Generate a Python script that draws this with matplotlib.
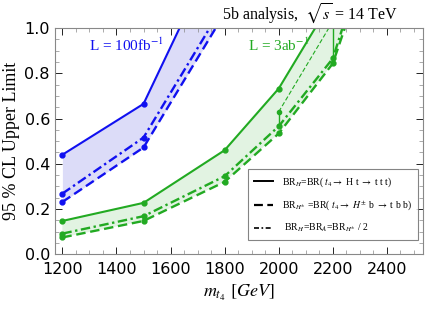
import numpy as np
import matplotlib
matplotlib.use("Agg")
import matplotlib.pyplot as plt
from matplotlib.lines import Line2D

plt.rcParams['mathtext.fontset'] = 'stix'

# data
m_blue = [1200, 1500, 1800]
blue_solid = [0.44, 0.665, 1.42]
blue_dashdot = [0.268, 0.516, 1.11]
blue_dashed = [0.231, 0.472, 1.066]

m_green = [1200, 1500, 1800, 2000, 2200, 2400]
green_solid = [0.147, 0.227, 0.46, 0.733, 1.13, 1.6]
green_dashdot = [0.091, 0.168, 0.345, 0.566, 0.866, 1.62]
green_dashed = [0.074, 0.147, 0.32, 0.534, 0.844, 1.55]

m_extra = [2000, 2200]
green_extra = [0.63, 1.03]

blue = '#1010f0'
green = '#22aa22'

fig = plt.figure(figsize=(4.25, 3.13), dpi=100)
ax = fig.add_axes([0.129, 0.188, 0.866, 0.722])

ax.fill_between(m_blue, blue_solid, blue_dashed, color='#dcdcf8', lw=0)
ax.fill_between(m_green, green_solid, green_dashed, color='#e2f3e2', lw=0)

ax.plot(m_blue, blue_solid, '-', color=blue, lw=1.5, marker='o', ms=3.5)
ax.plot(m_blue, blue_dashdot, color=blue, lw=1.7, marker='o', ms=3.5, dashes=[4, 1.5, 1, 1.5])
ax.plot(m_blue, blue_dashed, color=blue, lw=1.7, marker='o', ms=3.5, dashes=[4, 2])

ax.plot(m_green, green_solid, '-', color=green, lw=1.5, marker='o', ms=3.5)
ax.plot(m_green, green_dashdot, color=green, lw=1.7, marker='o', ms=3.5, dashes=[4, 1.5, 1, 1.5])
ax.plot(m_green, green_dashed, color=green, lw=1.7, marker='o', ms=3.5, dashes=[4, 2])
ax.plot(m_extra, green_extra, color=green, lw=0.8, dashes=[4, 2], marker='o', ms=3)
ax.plot([m_extra[0], m_extra[0]], [green_dashdot[3], green_extra[0]], color=green, lw=1.0)
ax.plot([m_extra[1], m_extra[1]], [green_dashdot[4], 1.0], color=green, lw=1.0)

ax.set_xlim(1172, 2533)
ax.set_ylim(0, 1.0)
ax.set_xticks([1200, 1400, 1600, 1800, 2000, 2200, 2400])
ax.set_yticks([0.0, 0.2, 0.4, 0.6, 0.8, 1.0])
ax.set_yticklabels(['0.0', '0.2', '0.4', '0.6', '0.8', '1.0'])
ax.set_xticks(np.arange(1200, 2530, 50), minor=True)
ax.set_yticks(np.arange(0, 1.0, 0.05), minor=True)
ax.tick_params(which='both', direction='in', top=True, right=True, labelsize=11.5)
ax.tick_params(axis='x', which='major', pad=6)
ax.tick_params(which='major', length=5, width=0.6)
ax.tick_params(which='minor', length=3, width=0.5, color='#888888')
for s in ax.spines.values():
    s.set_color('#888888')
    s.set_linewidth(0.8)

ax.set_ylabel('95 % CL Upper Limit', family='Liberation Serif', fontsize=13, labelpad=3)
ax.set_xlabel(r'$m_{t_4}$ $[GeV]$', fontsize=13, labelpad=4)
fig.text(0.73, 0.955, r'5b analysis,  $\sqrt{s}$ = 14 TeV', ha='center', va='center',
         family='Liberation Serif', fontsize=11.5)

ax.text(1300, 0.9, r'L = 100fb$^{-1}$', color=blue, family='Liberation Serif', fontsize=11)
ax.text(1885, 0.9, r'L = 3ab$^{-1}$', color=green, family='Liberation Serif', fontsize=11)

handles = [Line2D([], [], color='k', lw=1.4),
           Line2D([], [], color='k', lw=1.6, dashes=[4, 2]),
           Line2D([], [], color='k', lw=1.2, dashes=[3, 1.5, 1, 1.5])]
labels = [r'BR$_{H}$=BR( $t_4$$\rightarrow$ H t $\rightarrow$ t t t)',
          r'BR$_{H^{\pm}}$ =BR( $t_4$$\rightarrow$ $H^{\pm}$ b $\rightarrow$ t b b)',
          r' BR$_{H}$=BR$_{A}$=BR$_{H^{\pm}}$ / 2']
leg = ax.legend(handles, labels, loc='lower right', bbox_to_anchor=(1.0, 0.04),
                prop={'family': 'Liberation Serif', 'size': 7}, frameon=True,
                fancybox=False, edgecolor='#666666', handlelength=2.0, labelspacing=1.0,
                borderpad=0.6, handletextpad=0.9)
leg.get_frame().set_linewidth(0.8)

fig.savefig('out.png', dpi=100)
